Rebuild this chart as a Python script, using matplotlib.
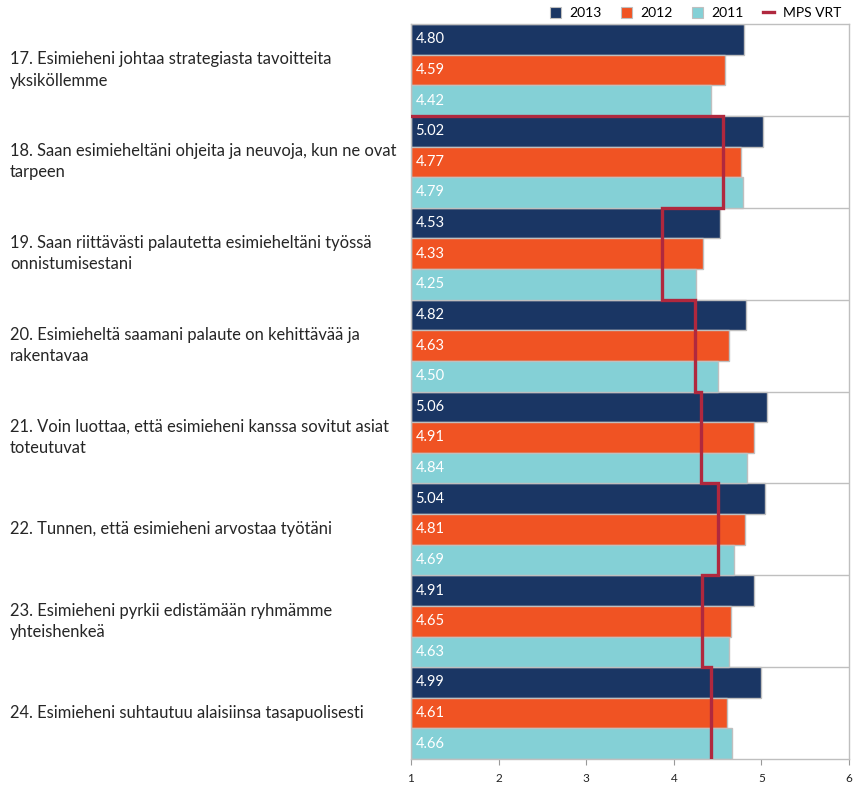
import matplotlib
matplotlib.use("Agg")
import matplotlib.pyplot as plt
from matplotlib.lines import Line2D
from matplotlib.patches import Patch
import numpy as np

plt.rcParams['font.family'] = ['Lato', 'DejaVu Sans']

questions = [
    "17. Esimieheni johtaa strategiasta tavoitteita\nyksiköllemme",
    "18. Saan esimieheltäni ohjeita ja neuvoja, kun ne ovat\ntarpeen",
    "19. Saan riittävästi palautetta esimieheltäni työssä\nonnistumisestani",
    "20. Esimieheltä saamani palaute on kehittävää ja\nrakentavaa",
    "21. Voin luottaa, että esimieheni kanssa sovitut asiat\ntoteutuvat",
    "22. Tunnen, että esimieheni arvostaa työtäni",
    "23. Esimieheni pyrkii edistämään ryhmämme\nyhteishenkeä",
    "24. Esimieheni suhtautuu alaisiinsa tasapuolisesti",
]
series_names = ["2013", "2012", "2011"]
v2013 = [4.80, 5.02, 4.53, 4.82, 5.06, 5.04, 4.91, 4.99]
v2012 = [4.59, 4.77, 4.33, 4.63, 4.91, 4.81, 4.65, 4.61]
v2011 = [4.42, 4.79, 4.25, 4.50, 4.84, 4.69, 4.63, 4.66]
mps_vrt = [None, 4.56, 3.86, 4.24, 4.31, 4.51, 4.32, 4.43]
xticks = [1, 2, 3, 4, 5, 6]

colors = ["#1A3664", "#F05323", "#84D0D6"]
line_color = "#B0283E"
edge = "#BFBFBF"

fig = plt.figure(figsize=(8.59, 7.85), dpi=100)
ax = fig.add_axes([411/859, 1-759/785, (849-411)/859, (759-24)/785])

xmin, xmax = 1, 6
n = len(questions)
values = [v2013, v2012, v2011]
h = 1/3
for k, vals in enumerate(values):
    ys = np.arange(n) + k*h
    ax.barh(ys, np.array(vals) - xmin, left=xmin, height=h, align='edge',
            color=colors[k], edgecolor=edge, linewidth=1.0, zorder=2)
    for y, v in zip(ys, vals):
        ax.text(xmin + 0.05, y + h/2, f"{v:.2f}", color="white", fontsize=10.5,
                va='center', ha='left', zorder=4)

# group separators
for i in range(1, n):
    ax.axhline(i, color=edge, linewidth=1.0, zorder=1)

# MPS VRT step line (missing value starts at axis minimum on the group boundary)
xs, ys = [], []
for i, m in enumerate(mps_vrt):
    if m is None:
        xs.append(xmin)
        ys.append(i + 1)
        continue
    xs += [m, m]
    ys += [i, i+1]
ax.plot(xs, ys, color=line_color, linewidth=2.4, zorder=3, solid_joinstyle='miter')

ax.set_xlim(xmin, xmax)
ax.set_ylim(n, 0)
ax.set_xticks(xticks)
ax.set_xticklabels([str(t) for t in xticks], fontsize=8.5, color="#222222")
ax.set_yticks([])
for s in ax.spines.values():
    s.set_color(edge)
    s.set_linewidth(1.0)
ax.tick_params(axis='x', direction='out', length=4, color="#999999", pad=6)

# question labels
for i, q in enumerate(questions):
    yfig = 1 - (24 + (i + 0.5) * (735/8)) / 785
    fig.text(10/859, yfig, q, fontsize=11.9, color="#262626", va='center', ha='left',
             linespacing=1.4)

handles = [Patch(facecolor=c, edgecolor=edge, linewidth=0.8) for c in colors]
handles.append(Line2D([0], [0], color=line_color, linewidth=2.4))
leg = fig.legend(handles, series_names + ["MPS VRT"], loc='upper right',
                 bbox_to_anchor=(848/859, 1.0), ncol=4, frameon=False, fontsize=10,
                 handlelength=0.8, handleheight=0.8, handletextpad=0.6, columnspacing=1.4,
                 borderaxespad=0.1)

fig.savefig("out.png", dpi=100)
